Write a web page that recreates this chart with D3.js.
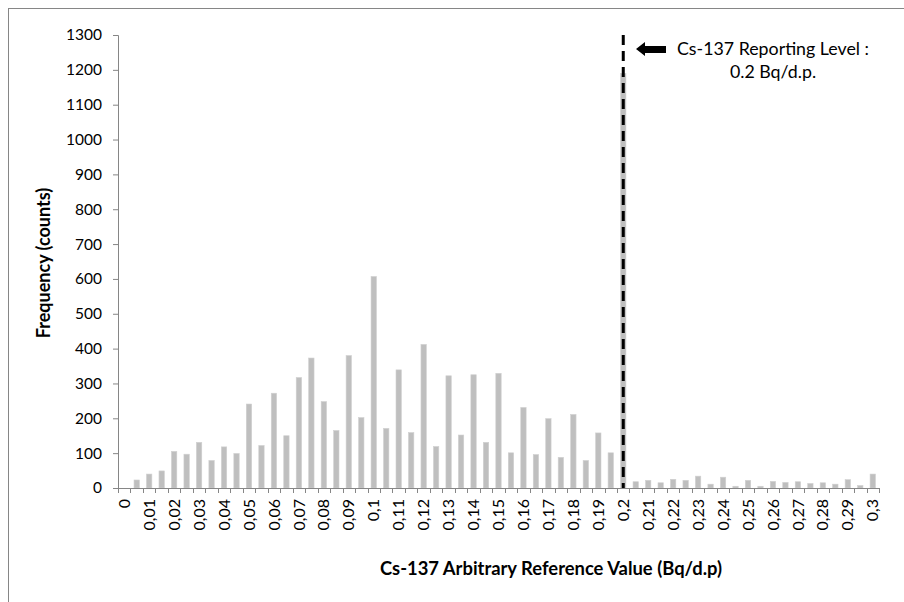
<!DOCTYPE html>
<html>
<head>
<meta charset="utf-8">
<script src="https://cdn.jsdelivr.net/npm/d3@7"></script>
<style>
  html, body { margin: 0; padding: 0; background: #fff; }
  svg { display: block; font-family: Lato, "Open Sans", sans-serif; }
</style>
</head>
<body>
<svg id="chart" width="904" height="602"></svg>
<script>
// Histogram bins (Bq/d.p), 0.005 wide
const bins = [0, 0.005, 0.01, 0.015, 0.02, 0.025, 0.03, 0.035, 0.04, 0.045,
  0.05, 0.055, 0.06, 0.065, 0.07, 0.075, 0.08, 0.085, 0.09, 0.095,
  0.1, 0.105, 0.11, 0.115, 0.12, 0.125, 0.13, 0.135, 0.14, 0.145,
  0.15, 0.155, 0.16, 0.165, 0.17, 0.175, 0.18, 0.185, 0.19, 0.195,
  0.2, 0.205, 0.21, 0.215, 0.22, 0.225, 0.23, 0.235, 0.24, 0.245,
  0.25, 0.255, 0.26, 0.265, 0.27, 0.275, 0.28, 0.285, 0.29, 0.295, 0.3];

// Frequency (counts) per bin
const counts = [0, 23, 40, 49, 105, 97, 131, 79, 118, 99,
  241, 122, 272, 150, 317, 373, 248, 165, 380, 202,
  607, 171, 339, 159, 412, 119, 322, 152, 325, 131,
  329, 101, 231, 96, 199, 88, 211, 79, 158, 101,
  1190, 18, 22, 15, 25, 22, 34, 11, 31, 5,
  22, 5, 19, 16, 18, 13, 15, 11, 24, 7, 40];

// Labelled bins on the x axis
const labelledBins = [0, 0.01, 0.02, 0.03, 0.04, 0.05, 0.06, 0.07, 0.08, 0.09,
  0.1, 0.11, 0.12, 0.13, 0.14, 0.15, 0.16, 0.17, 0.18, 0.19,
  0.2, 0.21, 0.22, 0.23, 0.24, 0.25, 0.26, 0.27, 0.28, 0.29, 0.3];

const yTicks = [0, 100, 200, 300, 400, 500, 600, 700, 800, 900, 1000, 1100, 1200, 1300];

const reportingLevel = 0.2;

const svg = d3.select("#chart");
const plotLeft = 118, plotRight = 879, plotTop = 35, plotBottom = 488;
const axisColor = "#868686";
const textColor = "#000";

// outer chart frame
svg.append("rect")
  .attr("x", 8.5).attr("y", 8.5)
  .attr("width", 900).attr("height", 600)
  .attr("fill", "none").attr("stroke", axisColor).attr("stroke-width", 1);

const x = d3.scaleBand()
  .domain(bins)
  .range([plotLeft, plotRight])
  .paddingInner(0.57)
  .paddingOuter(0.285);

// bin boundaries for the tick marks
const edge = d3.scaleLinear().domain([0, bins.length]).range([plotLeft, plotRight]);

const y = d3.scaleLinear().domain([0, 1300]).range([plotBottom, plotTop]);

// bars
svg.append("g")
  .selectAll("rect")
  .data(bins)
  .join("rect")
  .attr("x", d => x(d))
  .attr("width", x.bandwidth())
  .attr("y", (d, i) => y(counts[i]))
  .attr("height", (d, i) => y(0) - y(counts[i]))
  .attr("fill", "#bfbfbf")
  .attr("stroke", "#d0d0d0")
  .attr("stroke-width", 0.6);

// y axis
const yAxis = svg.append("g")
  .attr("transform", `translate(${plotLeft},0)`)
  .call(d3.axisLeft(y).tickValues(yTicks).tickSize(5).tickPadding(11).tickFormat(d3.format("d")));
yAxis.select(".domain").attr("stroke", axisColor);
yAxis.selectAll(".tick line").attr("stroke", axisColor);
yAxis.selectAll(".tick text")
  .attr("fill", textColor)
  .style("font-size", "15.5px")
  .style("font-family", "Lato, sans-serif");

// x axis: baseline and bin boundary ticks
const xAxisG = svg.append("g");
xAxisG.append("line")
  .attr("x1", plotLeft).attr("x2", plotRight)
  .attr("y1", plotBottom + 0.5).attr("y2", plotBottom + 0.5)
  .attr("stroke", axisColor);
xAxisG.selectAll("line.edge")
  .data(d3.range(bins.length + 1))
  .join("line")
  .attr("class", "edge")
  .attr("x1", i => Math.round(edge(i)) + 0.5)
  .attr("x2", i => Math.round(edge(i)) + 0.5)
  .attr("y1", plotBottom)
  .attr("y2", plotBottom + 5)
  .attr("stroke", axisColor);

// x tick labels, rotated, decimal comma
const fmt = d => String(+d.toFixed(3)).replace(".", ",");
const xLabels = svg.append("g")
  .attr("transform", `translate(0,${plotBottom})`)
  .call(d3.axisBottom(x).tickValues(labelledBins).tickSize(0).tickFormat(fmt));
xLabels.select(".domain").remove();
xLabels.selectAll(".tick text")
  .attr("transform", "rotate(-90)")
  .attr("x", -11)
  .attr("y", 0)
  .attr("dy", "0.35em")
  .attr("text-anchor", "end")
  .attr("fill", textColor)
  .style("font-size", "16px")
  .style("font-family", "Lato, sans-serif");

// reporting level marker
const xr = x(reportingLevel) + x.bandwidth() / 2;
svg.append("line")
  .attr("x1", xr).attr("x2", xr)
  .attr("y1", plotTop).attr("y2", plotBottom)
  .attr("stroke", "#000")
  .attr("stroke-width", 3)
  .attr("stroke-dasharray", "10,6");

// arrow pointing to the marker
svg.append("path")
  .attr("d", "M636,49 L645,42 L645,46 L666,46 L666,53 L645,53 L645,56 Z")
  .attr("fill", "#000");

const note = svg.append("text")
  .attr("x", 773)
  .attr("text-anchor", "middle")
  .attr("fill", textColor)
  .style("font-size", "17.8px");
note.append("tspan").attr("x", 773).attr("y", 55).text("Cs-137 Reporting Level :");
note.append("tspan").attr("x", 773).attr("y", 78).text("0.2 Bq/d.p.");

// axis titles
svg.append("text")
  .attr("transform", "translate(50,263) rotate(-90)")
  .attr("text-anchor", "middle")
  .attr("fill", textColor)
  .style("font-size", "18px")
  .style("font-weight", "bold")
  .text("Frequency (counts)");

svg.append("text")
  .attr("x", 551)
  .attr("y", 575)
  .attr("text-anchor", "middle")
  .attr("fill", textColor)
  .style("font-size", "18.4px")
  .style("font-weight", "bold")
  .text("Cs-137 Arbitrary Reference Value (Bq/d.p)");
</script>
</body>
</html>
